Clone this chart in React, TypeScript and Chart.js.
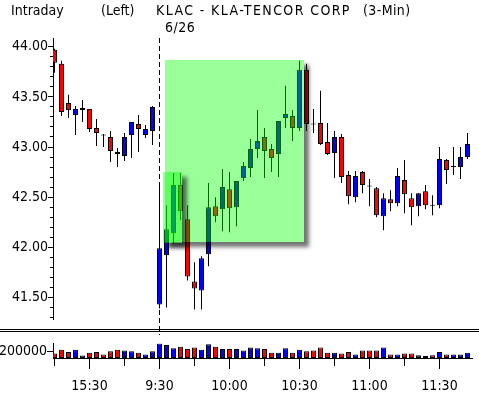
import React, { useEffect, useRef } from 'react';
import { Chart, registerables } from 'chart.js';
Chart.register(...registerables);

const FONT = "'DejaVu Sans Condensed', 'DejaVu Sans', sans-serif";

// 3-minute bars: 15 bars of the previous session (15:15-15:57), then 6/26 from 9:30
const opens = [
  43.97, 43.83, 43.44, 43.32, 43.37, 43.38, 43.19, 43.125, 43.10, 42.95,
  42.91, 43.12, 43.23, 43.12, 43.16, 41.43, 41.92, 42.14, 42.62, 42.28,
  41.66, 41.57, 41.93, 42.41, 42.38, 42.58, 42.40, 42.69, 42.79, 42.98,
  43.10, 42.98, 42.93, 43.29, 43.31, 43.19, 43.77, 43.235, 43.24, 43.05,
  42.94, 43.10, 42.72, 42.50, 42.75, 42.615, 42.59, 42.31, 42.48, 42.44,
  42.67, 42.49, 42.41, 42.56, 42.425, 42.42, 42.87, 42.80, 42.80, 42.90,
];
const highs = [
  43.98, 43.86, 43.52, 43.41, 43.47, 43.38, 43.28, 43.13, 43.16, 42.99,
  43.14, 43.25, 43.32, 43.22, 43.41, 42.65, 42.42, 42.74, 42.74, 42.42,
  41.85, 41.91, 42.64, 42.50, 42.78, 42.75, 42.66, 42.85, 43.08, 43.37,
  43.19, 43.03, 43.26, 43.61, 43.37, 43.86, 43.83, 43.38, 43.56, 43.24,
  43.16, 43.13, 42.76, 42.76, 42.76, 42.68, 42.60, 42.54, 42.57, 42.79,
  42.87, 42.54, 42.54, 42.62, 42.52, 43.00, 42.88, 43.00, 43.00, 43.14,
];
const lows = [
  43.74, 43.31, 43.29, 43.12, 43.25, 43.15, 43.01, 43.00, 42.85, 42.80,
  42.86, 42.89, 42.95, 43.09, 43.02, 41.39, 41.40, 42.04, 42.27, 41.67,
  41.38, 41.38, 41.81, 42.25, 42.16, 42.15, 42.21, 42.66, 42.70, 42.89,
  42.69, 42.75, 42.70, 43.19, 43.06, 43.16, 43.16, 43.14, 43.02, 42.92,
  42.69, 42.64, 42.43, 42.45, 42.54, 42.41, 42.30, 42.17, 42.36, 42.41,
  42.34, 42.22, 42.31, 42.38, 42.32, 42.39, 42.63, 42.72, 42.68, 42.88,
];
const closes = [
  43.84, 43.35, 43.37, 43.38, 43.39, 43.18, 43.14, 43.12, 42.96, 42.93,
  43.10, 43.25, 43.18, 43.18, 43.40, 41.99, 42.18, 42.62, 42.36, 41.71,
  41.59, 41.89, 42.40, 42.31, 42.60, 42.39, 42.66, 42.81, 42.98, 43.06,
  42.96, 42.89, 43.26, 43.33, 43.19, 43.77, 43.23, 43.23, 43.03, 42.93,
  43.10, 42.70, 42.51, 42.71, 42.62, 42.61, 42.32, 42.49, 42.44, 42.71,
  42.53, 42.40, 42.54, 42.42, 42.42, 42.88, 42.77, 42.805, 42.90, 43.03,
];
const volumes = [
  135000, 254000, 183000, 254000, 79000, 159000, 183000, 111000, 206000, 254000,
  230000, 206000, 159000, 111000, 206000, 444000, 397000, 301000, 349000, 278000,
  325000, 254000, 421000, 349000, 278000, 278000, 278000, 230000, 325000, 301000,
  278000, 159000, 159000, 301000, 159000, 254000, 206000, 230000, 325000, 159000,
  159000, 135000, 183000, 111000, 230000, 230000, 230000, 325000, 111000, 111000,
  135000, 135000, 87000, 63000, 87000, 183000, 111000, 111000, 111000, 159000,
];

const xTickIndex = [0, 5, 10, 15, 20, 25, 30, 35, 40, 45, 50, 55];
const xTickLabels = ['', '15:30', '', '9:30', '', '10:00', '', '10:30', '', '11:00', '', '11:30'];
const priceTicks = [41.5, 42.0, 42.5, 43.0, 43.5, 44.0];
const volumeTicks = [200000];
const sessionBreakIndex = 15;

// highlight boxes: [fromIndex, toIndex, lowPrice, highPrice]
const boxBig = [15.79, 35.64, 42.056, 43.867];
const boxSmall = [15.54, 18.26, 42.04, 42.748];

const titleParts = [
  { text: 'Intraday', x: 11, y: 15, spacing: 0 },
  { text: '(Left)', x: 101, y: 15, spacing: 0 },
  { text: 'KLAC - KLA-TENCOR CORP', x: 156, y: 15, spacing: 1.4 },
  { text: '(3-Min)', x: 363, y: 15, spacing: 0.4 },
  { text: '6/26', x: 165, y: 32, spacing: 0.5 },
];

const X_MIN = -1.5 / 7;
const X_MAX = 419 / 7 - 1.5 / 7;
const RED = '#ff0000';
const BLUE = '#0000ff';

const idx = opens.map((_, i) => i);
const isDoji = (i: number) => Math.abs(closes[i] - opens[i]) < 0.01;
const candleColor = (i: number) => (isDoji(i) ? '#000' : closes[i] > opens[i] ? BLUE : RED);
const volColor = (i: number) => (closes[i] > opens[i] ? BLUE : RED);

function drawBox(ctx: CanvasRenderingContext2D, chart: any, b: number[]) {
  const xs = chart.scales.x;
  const ys = chart.scales.y;
  const x0 = Math.round(xs.getPixelForValue(b[0]));
  const x1 = Math.round(xs.getPixelForValue(b[1]));
  const y0 = Math.round(ys.getPixelForValue(b[3]));
  const y1 = Math.round(ys.getPixelForValue(b[2]));
  ctx.save();
  ctx.beginPath();
  ctx.rect(0, 0, chart.width, chart.height);
  ctx.rect(x0, y0, x1 - x0, y1 - y0);
  ctx.clip('evenodd');
  ctx.shadowColor = 'rgba(0,0,0,0.55)';
  ctx.shadowBlur = 4;
  ctx.shadowOffsetX = 5;
  ctx.shadowOffsetY = 5;
  ctx.fillStyle = '#000';
  ctx.fillRect(x0, y0, x1 - x0, y1 - y0);
  ctx.restore();
  ctx.save();
  ctx.fillStyle = 'rgba(0,255,0,0.4)';
  ctx.fillRect(x0, y0, x1 - x0, y1 - y0);
  ctx.restore();
}

const pricePlugin = {
  id: 'priceDecor',
  beforeDatasetsDraw(chart: any) {
    const ctx = chart.ctx;
    const x = Math.round(chart.scales.x.getPixelForValue(sessionBreakIndex) - 0.5) + 0.5;
    ctx.save();
    ctx.strokeStyle = '#000';
    ctx.lineWidth = 1;
    ctx.setLineDash([5, 3]);
    ctx.beginPath();
    ctx.moveTo(x, chart.chartArea.top);
    ctx.lineTo(x, chart.height);
    ctx.stroke();
    ctx.restore();
  },
  afterDatasetsDraw(chart: any) {
    const ctx = chart.ctx;
    drawBox(ctx, chart, boxBig);
    drawBox(ctx, chart, boxSmall);
  },
  afterDraw(chart: any) {
    const ctx = chart.ctx;
    const ys = chart.scales.y;
    const left = chart.chartArea.left;
    ctx.save();
    ctx.strokeStyle = '#000';
    ctx.lineWidth = 1;
    ctx.beginPath();
    for (let k = 413; k <= 440; k++) {
      const v = k / 10;
      if (k % 5 === 0) continue;
      const y = Math.round(ys.getPixelForValue(v) - 0.5) + 0.5;
      ctx.moveTo(left - 3, y);
      ctx.lineTo(left, y);
    }
    ctx.stroke();
    // panel separator (double line)
    ctx.beginPath();
    ctx.moveTo(0, 329.5);
    ctx.lineTo(chart.width, 329.5);
    ctx.moveTo(0, 331.5);
    ctx.lineTo(chart.width, 331.5);
    ctx.stroke();
    ctx.fillStyle = '#000';
    ctx.font = `14px ${FONT}`;
    ctx.textBaseline = 'alphabetic';
    ctx.textAlign = 'left';
    titleParts.forEach((t) => {
      (ctx as any).letterSpacing = `${t.spacing}px`;
      ctx.fillText(t.text, t.x, t.y);
    });
    (ctx as any).letterSpacing = '0px';
    ctx.restore();
  },
};

const volPlugin = {
  id: 'volDecor',
  afterDraw(chart: any) {
    const ctx = chart.ctx;
    const xs = chart.scales.x;
    const bottom = chart.chartArea.bottom;
    ctx.save();
    ctx.strokeStyle = '#000';
    ctx.lineWidth = 1;
    ctx.beginPath();
    xTickIndex.forEach((v, k) => {
      const x = Math.round(xs.getPixelForValue(v) - 0.5) + 0.5;
      const len = xTickLabels[k] ? 11 : 8;
      ctx.moveTo(x, bottom);
      ctx.lineTo(x, bottom + len);
    });
    ctx.stroke();
    ctx.restore();
  },
};

const xScaleBase = {
  type: 'linear' as const,
  min: X_MIN,
  max: X_MAX,
  offset: false,
  bounds: 'data' as const,
};

export default function App() {
  const priceRef = useRef<HTMLCanvasElement>(null);
  const volRef = useRef<HTMLCanvasElement>(null);

  useEffect(() => {
    Chart.defaults.font.family = FONT;
    Chart.defaults.font.size = 14;
    Chart.defaults.color = '#000';

    const priceChart = new Chart(priceRef.current as HTMLCanvasElement, {
      type: 'bar',
      data: {
        datasets: [
          {
            label: 'body',
            order: 0,
            data: idx.map((i) => ({
              x: i,
              y: isDoji(i)
                ? [closes[i] - 0.005, closes[i] + 0.005]
                : [Math.min(opens[i], closes[i]), Math.max(opens[i], closes[i])],
            })) as any,
            backgroundColor: idx.map(candleColor),
            borderColor: '#000',
            borderWidth: 1,
            borderSkipped: false,
            barThickness: 5,
            grouped: false,
            inflateAmount: 0,
          } as any,
          {
            label: 'wick',
            order: 1,
            data: idx.map((i) => ({ x: i, y: [lows[i], highs[i]] })) as any,
            backgroundColor: '#000',
            borderWidth: 0,
            barThickness: 1,
            grouped: false,
            inflateAmount: 0,
          } as any,
        ],
      },
      options: {
        responsive: false,
        animation: false,
        events: [],
        layout: { padding: { left: 0, right: 7, top: 38, bottom: 16 } },
        plugins: { legend: { display: false }, tooltip: { enabled: false }, title: { display: false } },
        scales: {
          x: { ...xScaleBase, display: false },
          y: {
            type: 'linear',
            position: 'left',
            min: 41.285,
            max: 44.087,
            bounds: 'data',
            afterFit: (s: any) => {
              s.width = 53;
            },
            afterBuildTicks: (s: any) => {
              s.ticks = priceTicks.map((v) => ({ value: v }));
            },
            ticks: {
              callback: (v: any) => Number(v).toFixed(2),
              color: '#000',
              font: { family: FONT, size: 14 },
              padding: 0,
            },
            grid: { drawOnChartArea: false, drawTicks: true, tickLength: 5, color: '#000', tickColor: '#000' },
            border: { display: true, color: '#000', width: 1 },
          },
        },
      } as any,
      plugins: [pricePlugin],
    });

    const volChart = new Chart(volRef.current as HTMLCanvasElement, {
      type: 'bar',
      data: {
        datasets: [
          {
            label: 'volume',
            data: idx.map((i) => ({ x: i, y: volumes[i] })) as any,
            backgroundColor: idx.map(volColor),
            borderColor: '#000',
            borderWidth: 1,
            borderSkipped: false,
            barThickness: 5,
            grouped: false,
            inflateAmount: 0,
          } as any,
        ],
      },
      options: {
        responsive: false,
        animation: false,
        events: [],
        layout: { padding: { left: 0, right: 7, top: 4, bottom: 0 } },
        plugins: { legend: { display: false }, tooltip: { enabled: false }, title: { display: false } },
        scales: {
          x: {
            ...xScaleBase,
            display: true,
            afterFit: (s: any) => {
              s.height = 36;
            },
            afterBuildTicks: (s: any) => {
              s.ticks = xTickIndex.map((v) => ({ value: v }));
            },
            ticks: {
              autoSkip: false,
              maxRotation: 0,
              minRotation: 0,
              padding: 20,
              color: '#000',
              font: { family: FONT, size: 14 },
              callback: (v: any) => {
                const k = xTickIndex.indexOf(Number(v));
                return k >= 0 ? xTickLabels[k] : '';
              },
            },
            grid: { drawOnChartArea: false, drawTicks: false },
            border: { display: true, color: '#000', width: 1 },
          },
          y: {
            type: 'linear',
            position: 'left',
            min: 0,
            max: 450000,
            bounds: 'data',
            afterFit: (s: any) => {
              s.width = 53;
            },
            afterBuildTicks: (s: any) => {
              s.ticks = volumeTicks.map((v) => ({ value: v }));
            },
            ticks: {
              callback: (v: any) => String(v),
              color: '#000',
              font: { family: FONT, size: 14 },
              padding: 0,
            },
            grid: { drawOnChartArea: false, drawTicks: true, tickLength: 6, color: '#000', tickColor: '#000' },
            border: { display: true, color: '#000', width: 1 },
          },
        },
      } as any,
      plugins: [volPlugin],
    });

    return () => {
      priceChart.destroy();
      volChart.destroy();
    };
  }, []);

  return (
    <div style={{ position: 'absolute', left: 0, top: 0, width: 479, height: 394, background: '#fff', overflow: 'hidden' }}>
      <canvas ref={priceRef} width={479} height={335} style={{ position: 'absolute', left: 0, top: 0 }} />
      <canvas ref={volRef} width={479} height={59} style={{ position: 'absolute', left: 0, top: 335 }} />
    </div>
  );
}
